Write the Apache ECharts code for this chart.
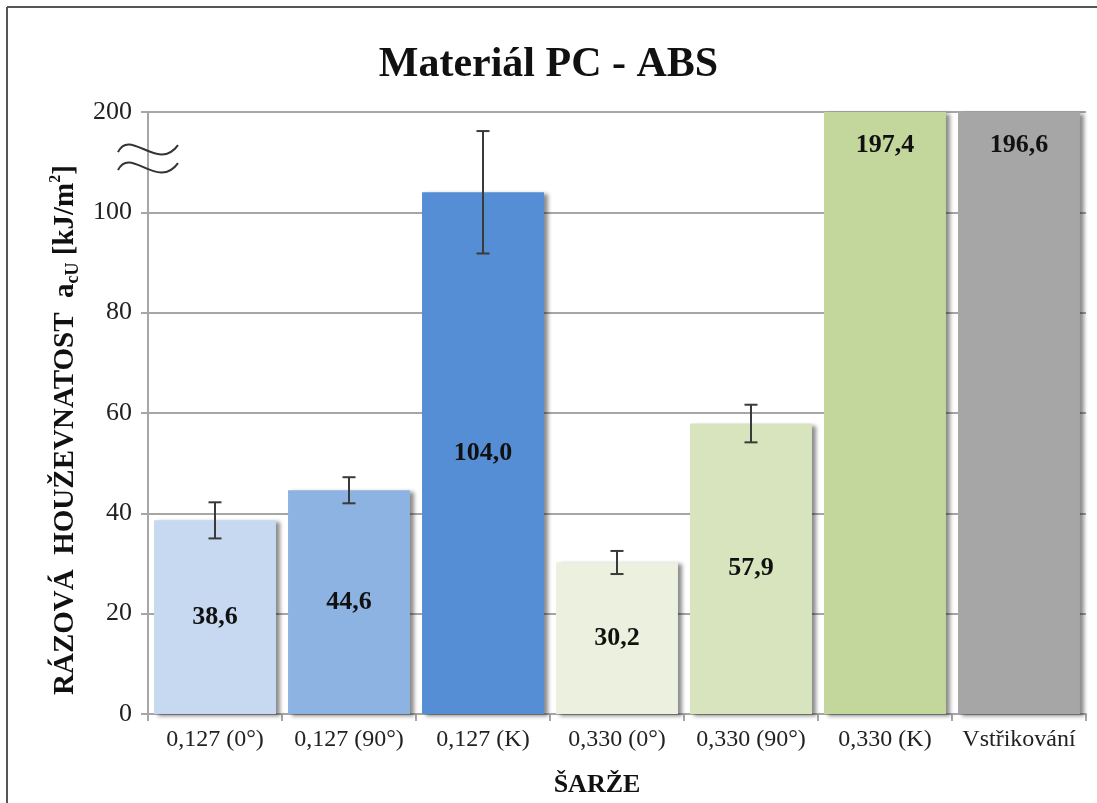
<!DOCTYPE html>
<html>
<head>
<meta charset="utf-8">
<script src="https://cdn.jsdelivr.net/npm/echarts@6/dist/echarts.min.js"></script>
<style>
  html, body { margin: 0; padding: 0; background: #fff; }
  #chart { width: 1097px; height: 803px; }
</style>
</head>
<body>
<div id="chart"></div>
<script>
// Batches of PC-ABS and their impact strength (kJ/m2)
const categories = ['0,127 (0°)', '0,127 (90°)', '0,127 (K)', '0,330 (0°)', '0,330 (90°)', '0,330 (K)', 'Vstřikování'];
const values = [38.6, 44.6, 104.0, 30.2, 57.9, 197.4, 196.6];
// Standard deviation shown as error bars (none for the last two batches)
const deviations = [3.6, 2.6, 12.2, 2.3, 3.75, null, null];
const barColors = ['#c6d9f1', '#8db3e2', '#558ed5', '#ebf1de', '#d7e4bd', '#c3d69b', '#a6a6a6'];
// Value axis runs 0..100 and is broken above; the top tick stands for 200
const yTicks = [0, 20, 40, 60, 80, 100, 200];

const AXIS_TOP = 120;           // plotted position of the "200" tick
const SERIF = '"Liberation Serif", "Times New Roman", serif';

function fmt(v) { return v.toFixed(1).replace('.', ','); }

const barData = values.map((v, i) => {
  const item = { value: v, itemStyle: { color: barColors[i] } };
  if (v > AXIS_TOP) item.label = { position: 'insideTop', distance: 20 };
  return item;
});

const errData = values.map((v, i) => deviations[i] == null ? null : [i, v - deviations[i], v + deviations[i]]).filter(d => d);

const chart = echarts.init(document.getElementById('chart'));
chart.setOption({
  animation: false,
  backgroundColor: '#fff',
  title: {
    text: 'Materiál PC - ABS',
    left: 'center',
    top: 39,
    textStyle: { fontFamily: SERIF, fontSize: 42, fontWeight: 'bold', color: '#111' }
  },
  grid: { left: 148, right: 11, top: 112, bottom: 88, containLabel: false },
  xAxis: {
    type: 'category',
    data: categories,
    name: 'ŠARŽE',
    nameLocation: 'middle',
    nameGap: 58,
    nameTextStyle: { fontFamily: SERIF, fontSize: 26, fontWeight: 'bold', color: '#111', padding: [0, 40, 0, 0] },
    axisLine: { lineStyle: { color: '#a6a6a6', width: 2 } },
    axisTick: { show: true, length: 7, lineStyle: { color: '#a6a6a6', width: 2 } },
    axisLabel: { fontFamily: SERIF, fontSize: 24, color: '#222', margin: 14, interval: 0 }
  },
  yAxis: {
    type: 'value',
    min: 0,
    max: AXIS_TOP,
    interval: 20,
    name: '{b|RÁZOVÁ  HOUŽEVNATOST  a}{sub|cU}{b| [kJ/m}{sup|2}{b|]}',
    nameLocation: 'middle',
    nameRotate: 90,
    nameGap: 62,
    nameTextStyle: {
      padding: [0, 34, 0, 0],
      rich: {
        b: { fontFamily: SERIF, fontSize: 29, fontWeight: 'bold', color: '#111', lineHeight: 34, verticalAlign: 'middle' },
        sub: { fontFamily: SERIF, fontSize: 18, fontWeight: 'bold', color: '#111', lineHeight: 34, verticalAlign: 'bottom' },
        sup: { fontFamily: SERIF, fontSize: 16, fontWeight: 'bold', color: '#111', lineHeight: 34, verticalAlign: 'top' }
      }
    },
    axisLine: { show: true, lineStyle: { color: '#a6a6a6', width: 2 } },
    axisTick: { show: true, length: 7, lineStyle: { color: '#a6a6a6', width: 2 } },
    splitLine: { lineStyle: { color: '#a6a6a6', width: 2 } },
    axisLabel: {
      fontFamily: SERIF, fontSize: 26, color: '#222', margin: 16,
      formatter: v => v === AXIS_TOP ? String(yTicks[yTicks.length - 1]) : String(v)
    }
  },
  series: [
    {
      type: 'bar',
      data: barData,
      barCategoryGap: '9%',
      clip: true,
      itemStyle: {
        shadowColor: 'rgba(0,0,0,0.45)',
        shadowBlur: 4,
        shadowOffsetX: 4,
        shadowOffsetY: 2
      },
      label: {
        show: true,
        position: 'inside',
        formatter: p => fmt(p.value),
        fontFamily: SERIF,
        fontSize: 26,
        fontWeight: 'bold',
        color: '#111'
      },
      z: 2
    },
    {
      type: 'custom',
      data: errData,
      z: 5,
      renderItem: function (params, api) {
        const x = api.value(0);
        const lo = api.coord([x, api.value(1)]);
        const hi = api.coord([x, api.value(2)]);
        const cap = 6.5;
        const style = { stroke: '#3a3a3a', lineWidth: 2 };
        return {
          type: 'group',
          children: [
            { type: 'line', shape: { x1: lo[0], y1: lo[1], x2: hi[0], y2: hi[1] }, style },
            { type: 'line', shape: { x1: lo[0] - cap, y1: lo[1], x2: lo[0] + cap, y2: lo[1] }, style },
            { type: 'line', shape: { x1: hi[0] - cap, y1: hi[1], x2: hi[0] + cap, y2: hi[1] }, style }
          ]
        };
      }
    }
  ]
});

// Frame lines and the axis-break symbol drawn next to the value axis
function drawDecor() {
  const p1 = chart.convertToPixel({ gridIndex: 0 }, [0, 112.6]);
  const p2 = chart.convertToPixel({ gridIndex: 0 }, [0, 109.0]);
  const ax = 148;
  const wave = (y) => ({
    type: 'bezierCurve',
    shape: { x1: ax - 30, y1: y + 3, cpx1: ax - 18, cpy1: y - 22, cpx2: ax + 10, cpy2: y + 24, x2: ax + 30, y2: y - 4 },
    style: { stroke: '#333', lineWidth: 2, fill: null },
    z: 100
  });
  chart.setOption({
    graphic: [
      { type: 'line', shape: { x1: 7, y1: 7, x2: 1097, y2: 7 }, style: { stroke: '#555', lineWidth: 2 }, z: 100 },
      { type: 'line', shape: { x1: 7, y1: 7, x2: 7, y2: 803 }, style: { stroke: '#555', lineWidth: 2 }, z: 100 },
      wave(p1[1]),
      wave(p2[1])
    ]
  });
}
drawDecor();
</script>
</body>
</html>
